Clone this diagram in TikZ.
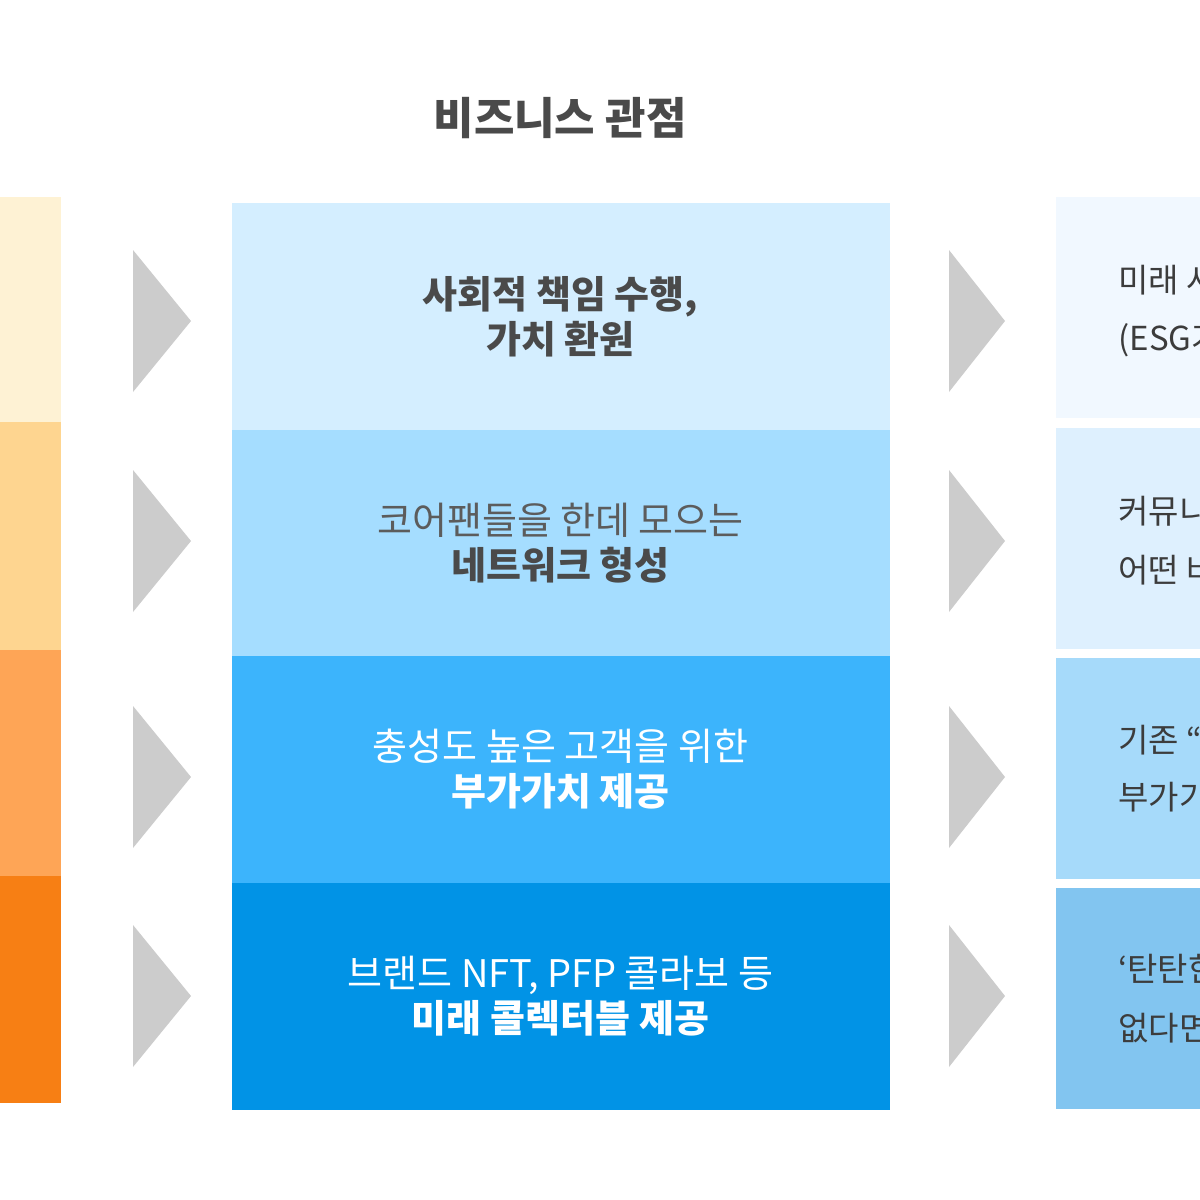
\documentclass[tikz,border=0pt]{standalone}
\usepackage{fontspec}
\setmainfont{Noto Sans CJK KR}
\usetikzlibrary{positioning}

\definecolor{warm1}{HTML}{FEF2D4}
\definecolor{warm2}{HTML}{FED590}
\definecolor{warm3}{HTML}{FEA556}
\definecolor{warm4}{HTML}{F77F14}
\definecolor{sky1}{HTML}{D4EEFF}
\definecolor{sky2}{HTML}{A5DDFF}
\definecolor{sky3}{HTML}{3CB4FC}
\definecolor{sky4}{HTML}{0193E6}
\definecolor{pale1}{HTML}{F1F8FF}
\definecolor{pale2}{HTML}{DEF0FE}
\definecolor{pale3}{HTML}{A6DAFA}
\definecolor{pale4}{HTML}{82C5F0}
\definecolor{chevron}{HTML}{CCCCCC}
\definecolor{inkdark}{HTML}{4A4A4A}
\definecolor{inkright}{HTML}{3C3C3C}

\begin{document}
\begin{tikzpicture}[x=0.5pt,y=-0.5pt,
    midbox/.style={rectangle,inner sep=0pt,minimum width=328.5pt,minimum height=113pt,
        align=center,font=\fontsize{19}{22.5}\selectfont},
    tint/.style={fill=#1,draw=#1,line width=0.3pt},
    rightbox/.style={rectangle,inner sep=0pt,minimum width=90pt,minimum height=110.5pt,anchor=north west},
    righttext/.style={anchor=west,inner sep=0pt,text=inkright,font=\fontsize{16.5}{16.5}\selectfont},
    node distance=0pt]
    \useasboundingbox (0,0) rectangle (1200,1200);
    \clip (0,0) rectangle (1200,1200);
    \fill[white] (0,0) rectangle (1200,1200);

    %% title
    \node[text=inkdark,font=\fontsize{22}{22}\selectfont\bfseries] (title) at (560,118) {비즈니스 관점};

    %% left column
    \fill[warm1] (0,197) rectangle (61,422);
    \fill[warm2] (0,422) rectangle (61,650);
    \fill[warm3] (0,650) rectangle (61,876);
    \fill[warm4] (0,876) rectangle (61,1103);

    %% middle column
    \node[midbox,tint=sky1,anchor=north] (m1) at (560.5,203)
        {\bfseries\color{inkdark}사회적 책임 수행,\\\bfseries\color{inkdark}가치 환원};
    \node[midbox,tint=sky2,below=of m1] (m2)
        {\color{inkdark!90}코어팬들을 한데 모으는\\\bfseries\color{inkdark}네트워크 형성};
    \node[midbox,tint=sky3,below=of m2,text=white] (m3)
        {충성도 높은 고객을 위한\\\bfseries 부가가치 제공};
    \node[midbox,tint=sky4,below=of m3,text=white] (m4)
        {브랜드 NFT, PFP 콜라보 등\\\bfseries 미래 콜렉터블 제공};

    %% right column
    \node[rightbox,fill=pale1] (r1) at (1056,197) {};
    \node[rightbox,fill=pale2,below=4.25pt of r1.south west,anchor=north west] (r2) {};
    \node[rightbox,fill=pale3,below=4.25pt of r2.south west,anchor=north west] (r3) {};
    \node[rightbox,fill=pale4,below=4.25pt of r3.south west,anchor=north west] (r4) {};

    \node[righttext] (r1a) at (1118,280) {미래 사회};
    \node[righttext] (r1b) at (1118,340) {(ESG가};
    \node[righttext] (r2a) at (1118,511) {커뮤니티};
    \node[righttext] (r2b) at (1118,570) {어떤 바};
    \node[righttext] (r3a) at (1118,740) {기존 “};
    \node[righttext] (r3b) at (1118,797) {부가가치};
    \node[righttext] (r4a) at (1118,969) {‘탄탄한};
    \node[righttext] (r4b) at (1118,1028) {없다면};

    %% chevrons
    \foreach \cy in {321,541,777,996}{
        \fill[chevron] (133,\cy-71) -- (191,\cy) -- (133,\cy+71) -- cycle;
        \fill[chevron] (949,\cy-71) -- (1005,\cy) -- (949,\cy+71) -- cycle;
    }
\end{tikzpicture}
\end{document}
